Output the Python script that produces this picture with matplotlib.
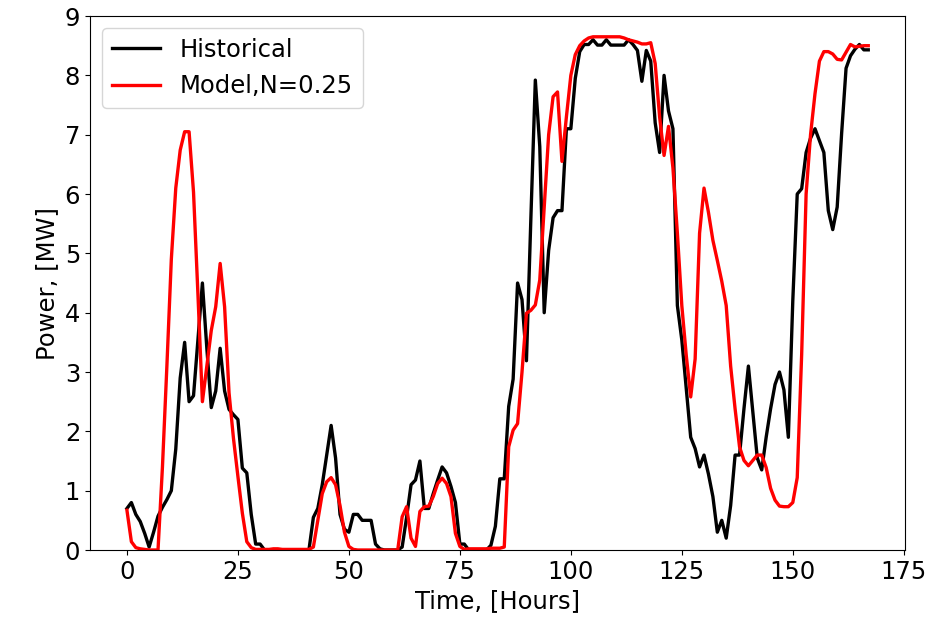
import matplotlib
matplotlib.use("Agg")
import matplotlib.pyplot as plt
import numpy as np

# hourly power, MW
historical = [
    0.70, 0.80, 0.60, 0.48, 0.28, 0.05, 0.30, 0.57, 0.72, 0.85,
    1.00, 1.70, 2.90, 3.50, 2.50, 2.60, 3.55, 4.50, 3.40, 2.40,
    2.68, 3.40, 2.68, 2.37, 2.28, 2.20, 1.38, 1.30, 0.60, 0.10,
    0.10, 0.00, 0.00, 0.00, 0.00, 0.00, 0.00, 0.00, 0.00, 0.00,
    0.00, 0.00, 0.55, 0.70, 1.10, 1.60, 2.10, 1.55, 0.60, 0.35,
    0.30, 0.60, 0.60, 0.50, 0.50, 0.50, 0.10, 0.02, 0.00, 0.00,
    0.00, 0.00, 0.05, 0.55, 1.10, 1.18, 1.50, 0.70, 0.70, 0.95,
    1.18, 1.40, 1.30, 1.07, 0.80, 0.10, 0.10, 0.00, 0.00, 0.00,
    0.00, 0.00, 0.08, 0.40, 1.20, 1.20, 2.42, 2.88, 4.50, 4.22,
    3.19, 5.60, 7.92, 6.80, 4.00, 5.05, 5.60, 5.72, 5.72, 7.10,
    7.10, 7.95, 8.40, 8.52, 8.52, 8.60, 8.51, 8.51, 8.60, 8.51,
    8.51, 8.51, 8.51, 8.60, 8.52, 8.42, 7.90, 8.42, 8.24, 7.20,
    6.70, 8.00, 7.40, 7.10, 4.12, 3.54, 2.73, 1.90, 1.71, 1.40,
    1.60, 1.28, 0.90, 0.30, 0.50, 0.20, 0.75, 1.60, 1.60, 2.38,
    3.10, 2.32, 1.55, 1.35, 1.90, 2.38, 2.79, 3.00, 2.70, 1.90,
    4.20, 6.00, 6.09, 6.70, 6.94, 7.10, 6.90, 6.70, 5.72, 5.40,
    5.78, 7.02, 8.12, 8.33, 8.44, 8.52, 8.43, 8.43,
]

model = [
    0.67, 0.14, 0.04, 0.02, 0.01, 0.00, 0.00, 0.00, 1.40, 3.10,
    4.90, 6.10, 6.74, 7.05, 7.05, 6.03, 4.30, 2.50, 3.10, 3.70,
    4.10, 4.83, 4.10, 2.65, 1.88, 1.24, 0.62, 0.14, 0.04, 0.01,
    0.01, 0.01, 0.01, 0.02, 0.02, 0.01, 0.01, 0.01, 0.01, 0.01,
    0.01, 0.01, 0.05, 0.50, 0.95, 1.15, 1.22, 1.10, 0.75, 0.30,
    0.06, 0.01, 0.00, 0.00, 0.00, 0.00, 0.00, 0.00, 0.00, 0.00,
    0.00, 0.00, 0.56, 0.73, 0.20, 0.06, 0.65, 0.73, 0.74, 0.90,
    1.12, 1.21, 1.12, 0.90, 0.28, 0.06, 0.01, 0.02, 0.02, 0.02,
    0.02, 0.02, 0.03, 0.03, 0.03, 0.05, 1.74, 2.02, 2.13, 3.00,
    3.99, 4.04, 4.13, 4.55, 5.79, 7.00, 7.64, 7.72, 6.55, 7.30,
    8.00, 8.35, 8.50, 8.58, 8.63, 8.65, 8.65, 8.65, 8.65, 8.65,
    8.65, 8.65, 8.63, 8.60, 8.58, 8.56, 8.53, 8.53, 8.55, 8.20,
    7.30, 6.65, 7.14, 6.44, 5.34, 4.12, 3.28, 2.58, 3.22, 5.34,
    6.10, 5.69, 5.22, 4.88, 4.53, 4.12, 3.10, 2.38, 1.74, 1.51,
    1.42, 1.51, 1.60, 1.60, 1.39, 1.04, 0.84, 0.74, 0.73, 0.73,
    0.80, 1.22, 3.30, 6.00, 7.00, 7.69, 8.24, 8.40, 8.40, 8.36,
    8.27, 8.26, 8.39, 8.52, 8.48, 8.49, 8.50, 8.50,
]

hours = np.arange(len(historical))

plt.rcParams['font.size'] = 17.5

fig = plt.figure(figsize=(9.46, 6.26), dpi=100)
ax = fig.add_axes([0.095, 0.1214, 0.862, 0.853])

ax.plot(hours, historical, color='black', linewidth=2.4, label='Historical')
ax.plot(hours, model, color='red', linewidth=2.4, label='Model,N=0.25')

ax.set_ylim(0, 9)
ax.set_xlabel("Time, [Hours]")
ax.set_ylabel("Power, [MW]")
ax.legend(loc='upper left')

fig.savefig("out.png", dpi=100)
